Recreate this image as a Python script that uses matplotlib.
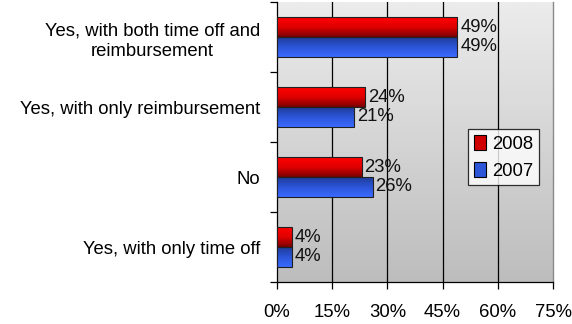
import numpy as np
import matplotlib
matplotlib.use("Agg")
import matplotlib.pyplot as plt
from matplotlib.colors import LinearSegmentedColormap
from matplotlib.patches import Patch

plt.rcParams['font.family'] = ['Liberation Sans', 'DejaVu Sans']

categories = ["Yes, with both time off and\nreimbursement",
              "Yes, with only reimbursement",
              "No",
              "Yes, with only time off"]
values_2008 = [49, 24, 23, 4]
values_2007 = [49, 21, 26, 4]
series_labels = ["2008", "2007"]
xticks = [0, 15, 30, 45, 60, 75]

FS = 13.3
fig = plt.figure(figsize=(5.72, 3.24), dpi=100)
ax = fig.add_axes([277 / 572, 1 - 282 / 324, 276 / 572, 280 / 324])

# grey vertical gradient behind the plot: light at the top, darker below
bg = np.linspace(0, 1, 256).reshape(-1, 1)
bg_cmap = LinearSegmentedColormap.from_list("bg", ["#bdbdbd", "#ececec"])
ax.imshow(bg, cmap=bg_cmap, aspect="auto", extent=[0, 1, 1, 0],
          transform=ax.transAxes, zorder=0)

# row 0 of each gradient lands on the upper edge of the bar (y axis is inverted)
red_cmap = LinearSegmentedColormap.from_list("red", ["#ff0000", "#e00000", "#7a0000"])
blue_cmap = LinearSegmentedColormap.from_list("blue", ["#1f3c99", "#2c55d8", "#3a6bff"])

h = 0.285
ypos = np.arange(len(categories))
grad = np.linspace(0, 1, 64).reshape(-1, 1)

def gradient_bars(vals, offset, cmap, label):
    bars = ax.barh(ypos + offset, vals, height=h, facecolor="none",
                   edgecolor="#202020", linewidth=0.8, zorder=4, label=label)
    for b in bars:
        x0, y0 = b.get_x(), b.get_y()
        w, hh = b.get_width(), b.get_height()
        im = ax.imshow(grad, cmap=cmap, aspect="auto", origin="upper",
                       extent=[x0, x0 + w, y0 + hh, y0], zorder=3)
        im.set_clip_path(b)
    for yy, v in zip(ypos + offset, vals):
        ax.text(v + 0.8, yy, f"{v}%", va="center", ha="left",
                fontsize=FS, color="#111111", zorder=5)
    return bars

gradient_bars(values_2008, -h / 2, red_cmap, series_labels[0])
gradient_bars(values_2007, h / 2, blue_cmap, series_labels[1])

ax.set_xlim(0, 75)
ax.set_ylim(len(categories) - 0.5, -0.5)

# vertical gridlines
for xv in xticks[1:-1]:
    ax.axvline(xv, color="black", linewidth=0.9, zorder=1)

ax.set_xticks(xticks)
ax.set_xticklabels([f"{t}%" for t in xticks], fontsize=FS)
ax.tick_params(axis="x", direction="out", length=5, width=0.9, pad=11)

ax.set_yticks(ypos)
ax.set_yticklabels(categories, fontsize=FS, multialignment="center",
                   linespacing=1.3)
ax.tick_params(axis="y", length=0, pad=12)
ax.set_yticks(np.arange(-0.5, len(categories), 1.0), minor=True)
ax.tick_params(axis="y", which="minor", direction="out", length=5, width=0.9)

for s in ["left", "bottom"]:
    ax.spines[s].set_color("black")
    ax.spines[s].set_linewidth(0.9)
ax.spines["right"].set_color("#8a8a8a")
ax.spines["right"].set_linewidth(1.0)
ax.spines["top"].set_visible(False)

handles = [Patch(facecolor="#d00000", edgecolor="black", linewidth=0.8),
           Patch(facecolor="#2c55d8", edgecolor="black", linewidth=0.8)]
leg = ax.legend(handles, series_labels, loc="upper left",
                bbox_to_anchor=(191 / 276, 1 - 127 / 280), fontsize=FS,
                frameon=True, fancybox=False, edgecolor="black",
                handlelength=0.65, handleheight=0.9, handletextpad=0.35,
                borderpad=0.3, labelspacing=0.5, borderaxespad=0)
leg.get_frame().set_linewidth(0.9)
leg.set_zorder(6)

fig.savefig("out.png", dpi=100)
